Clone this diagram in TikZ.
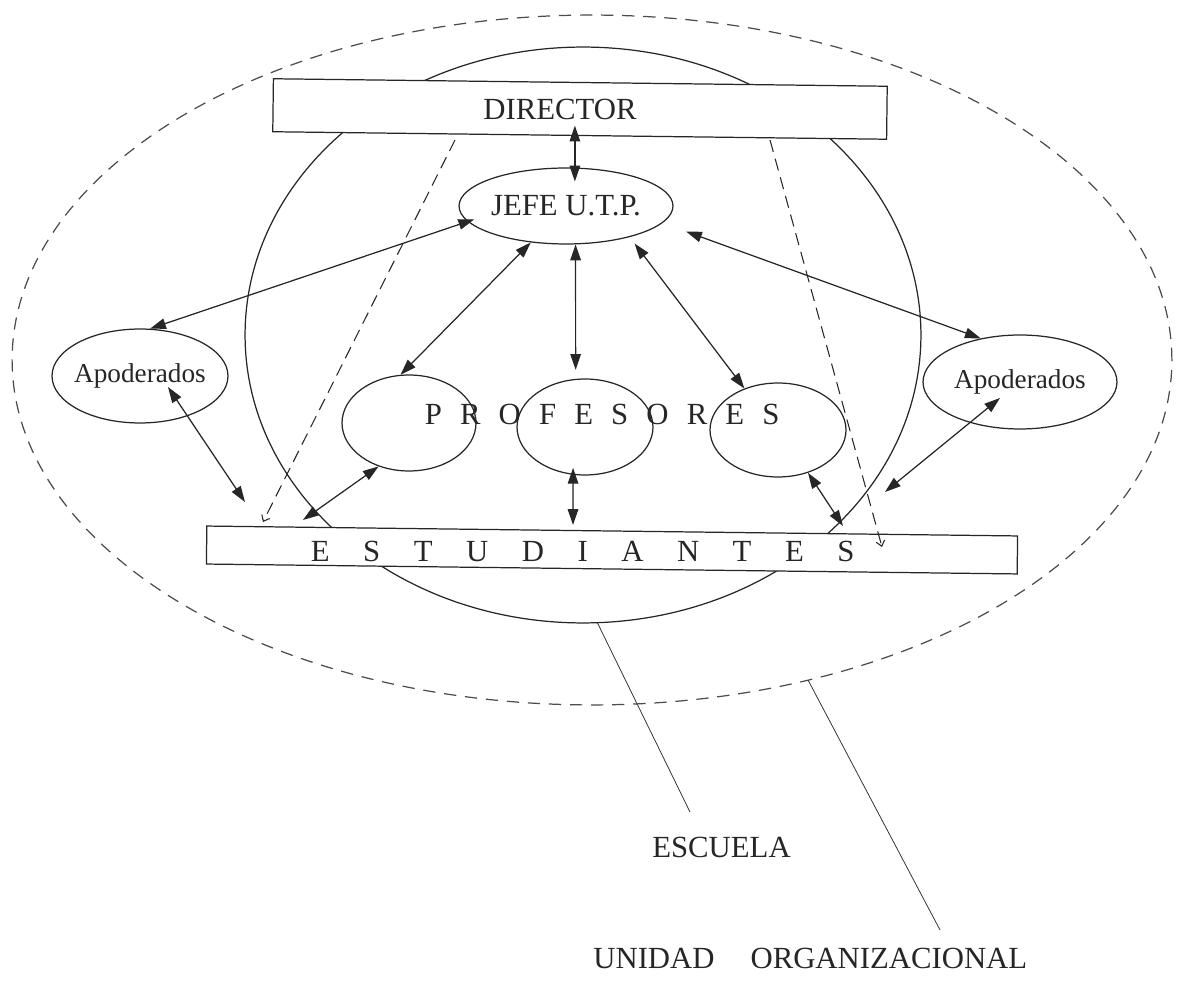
\documentclass[tikz,border=0pt]{standalone}
\usepackage{fontspec}
\setmainfont{Liberation Serif}
\usetikzlibrary{arrows.meta,calc,shapes.geometric}
\begin{document}
\begin{tikzpicture}[x=0.02cm,y=-0.02cm,
  every node/.style={font=\fontsize{17.5}{20}\selectfont, text=black!85},
  ell/.style={draw=black!85, ellipse, fill=white, inner sep=0pt, line width=0.7pt},
  apo/.style={ell, font=\fontsize{15.5}{18}\selectfont},
  box/.style={draw=black!85, rectangle, fill=white, inner sep=0pt, line width=0.7pt, rotate=-0.7},
  dbl/.style={{Triangle[length=9pt,width=6pt]}-{Triangle[length=9pt,width=6pt]}, line width=0.7pt, draw=black!85, fill=black!85},
  guide/.style={dash pattern=on 7pt off 4pt, line width=0.6pt, draw=black!85, -{Straight Barb[length=3pt,width=5pt]}},
  leader/.style={line width=0.45pt, draw=black!80},
  lbl/.style={inner sep=0pt, anchor=base west}]

\useasboundingbox (0,0) rectangle (1177,982);

% outer organisational unit and school
\draw[dash pattern=on 7pt off 5pt, line width=0.7pt, draw=black!70] (592,360) ellipse [x radius=11.6cm, y radius=6.9cm];
\draw[line width=0.7pt, draw=black!85] (583,335) ellipse [x radius=6.76cm, y radius=5.76cm];

% nodes
\node[box, minimum width=12.28cm, minimum height=1.06cm] (director) at (580,109) {};
\node[lbl] (dirtext) at (483,120) {DIRECTOR};
\node[ell, minimum width=4.28cm, minimum height=1.52cm] (jefe) at (566,206) {\makebox[0pt]{JEFE U.T.P.}};
\node[apo, minimum width=3.52cm, minimum height=1.88cm] (apoL) at (140,376) {\makebox[0pt]{Apoderados}};
\node[apo, minimum width=3.88cm, minimum height=1.88cm] (apoR) at (1020,382) {\makebox[0pt]{Apoderados}};
\node[ell, minimum width=2.68cm, minimum height=1.92cm] (profL) at (409,423) {};
\node[ell, minimum width=2.72cm, minimum height=1.92cm] (profM) at (585,427) {};
\node[ell, minimum width=2.72cm, minimum height=1.88cm] (profR) at (778,430) {};
\node[lbl] (proftext) at (424.5,425) {\addfontfeature{LetterSpace=59}PROFESORES};
\node[box, minimum width=16.22cm, minimum height=0.76cm] (bar) at (612,550) {};
\node[lbl] (esttext) at (310.6,562) {\addfontfeature{LetterSpace=109}ESTUDIANTES};

% dashed guides
\coordinate (g1a) at (455,140);
\coordinate (g1b) at (263,522);
\coordinate (g2a) at (770,140);
\coordinate (g2b) at (882,547);
\draw[guide] (g1a) -- (g1b);
\draw[guide] (g2a) -- (g2b);

% arrows
\draw[dbl, shorten <=-0.21cm, shorten >=-0.28cm] (director.south -| jefe.77) -- (jefe.77);
\draw[dbl, shorten <=-0.14cm] (jefe.189) -- (apoL.78);
\draw[dbl] (jefe.226) -- (profL.100);
\draw[dbl, shorten >=0.18cm] (jefe.284) -- (profM.101);
\draw[dbl, shorten <=0.16cm] (jefe.334) -- (profR.129);
\draw[dbl, shorten <=0.5cm] (jefe.350) -- (apoR.132);

\coordinate (l7) at (245,502);
\coordinate (l8) at (303,520);
\coordinate (l9) at (573,525);
\coordinate (l10) at (843,526);
\coordinate (l11) at (885,492);
\draw[dbl] ($(apoL.center)+(28,11)$) -- (l7);
\draw[dbl] (profL.235) -- (l8);
\draw[dbl, shorten <=-0.14cm] (profM.256) -- (l9);
\draw[dbl] (profR.305) -- (l10);
\draw[dbl] ($(apoR.center)+(-20,16)$) -- (l11);

% legend
\node[lbl] (escuela) at (652,858) {ESCUELA};
\node[lbl] (unidad) at (593,968) {UNIDAD\hspace{0.72cm}ORGANIZACIONAL};
\coordinate (esca) at (597,622);
\coordinate (escb) at (690,812);
\coordinate (unia) at (808,680);
\coordinate (unib) at (940,930);
\draw[leader] (esca) -- (escb);
\draw[leader] (unia) -- (unib);
\end{tikzpicture}
\end{document}
